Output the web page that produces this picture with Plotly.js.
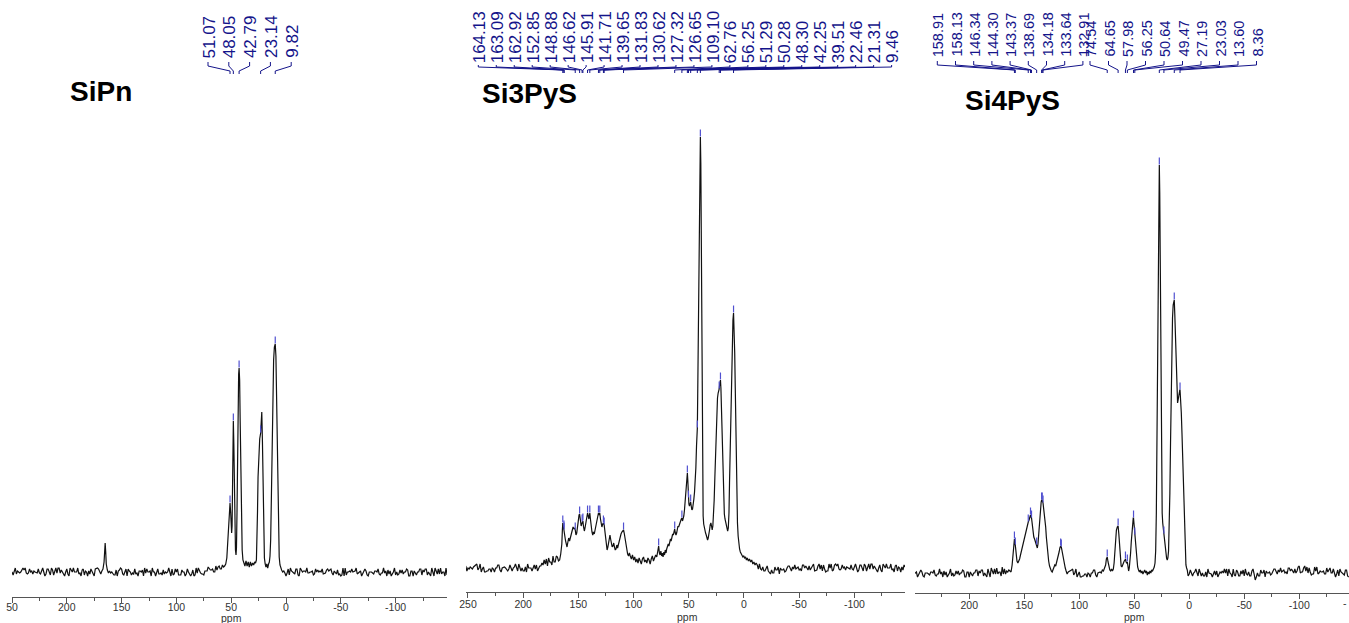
<!DOCTYPE html>
<html><head><meta charset="utf-8">
<script src="https://cdn.plot.ly/plotly-3.0.1.min.js"></script>
<style>html,body{margin:0;padding:0;background:#fff;}#chart{width:1349px;height:623px;}</style>
</head><body><div id="chart"></div>
<script>
// ---------- DATA (ppm, intensity above baseline) ----------
const sipnPoints = [
[251,-3],[250,0],[249,-3],[248,0],[247,4],[246,-2],[245,1],[244,0],[243,-1],[242,0],
[241,3],[240,4],[239,2],[238,4],[237,-1],[236,-2],[235,-1],[234,3],[233,0],[232,1],
[231,-2],[230,1],[229,0],[228,-1],[227,-1],[226,3],[225,-1],[224,-2],[223,2],[222,4],
[221,0],[220,-4],[219,-2],[218,3],[217,3],[216,0],[215,-3],[214,4],[213,2],[212,-3],
[211,1],[210,4],[209,-1],[208,4],[207,4],[206,-1],[205,2],[204,0],[203,-3],[202,-4],
[201,0],[200,3],[199,-2],[198,-4],[197,4],[196,2],[195,0],[194,4],[193,0],[192,0],
[191,0],[190,4],[189,-2],[188,-1],[187,-4],[186,2],[185,3],[184,-3],[183,1],[182,0],
[181,-4],[180,1],[179,-2],[178,3],[177,1],[176,-2],[175,-4],[174,3],[173,4],[172,4],
[171,3],[170,1],[169,-2],
[168,1],[167,3],[166,10],[165.5,22],[165,29],[164.5,20],[164,8],[163,2],[162,-1],[161,1],
[160,-1],[159,0],[158,-2],[157,-3],[156,-3],[155,2],[154,-4],[153,1],[152,2],[151,4],
[150,3],[149,-2],[148,-3],[147,0],[146,3],[145,-4],[144,3],[143,1],[142,0],[141,-3],
[140,-1],[139,-2],[138,3],[137,-2],[136,-1],[135,-4],[134,1],[133,1],[132,0],[131,2],
[130,-4],[129,4],[128,-1],[127,3],[126,0],[125,0],[124,1],[123,-4],[122,4],[121,0],
[120,0],[119,-4],[118,0],[117,3],[116,-2],[115,-2],[114,-1],[113,-3],[112,2],[111,-2],
[110,0],[109,-1],[108,0],[107,4],[106,0],[105,-4],[104,3],[103,-3],[102,-2],[101,3],
[100,0],[99,3],[98,-3],[97,-3],[96,-3],[95,2],[94,0],[93,0],[92,-4],[91,-2],
[90,3],[89,0],[88,-3],[87,-4],[86,-2],[85,2],[84,-4],[83,-3],[82,4],[81,-1],
[80,4],[79,1],[78,-1],[77,-2],[76,-2],[75,-3],[74,1],[73,1],[72,1],[71,5],
[70,3],[69,2],[68,2],[67,3],[66,0],[65,0],[64,6],[63,2],[62,5],[61,6],
[60,3],[59,3],[58,7],
[57,5],[56,6],[55,8],[54,14],[53.2,30],[52.5,52],[51.8,64],[51.07,69],[50.5,60],[50,47],[49.6,39],[49.2,46],[48.8,95],[48.4,140],[48.05,151],[47.6,128],[47.1,80],[46.6,42],[46.1,22],[45.6,17],[45.2,24],[44.7,60],[44.2,120],[43.6,175],[43.2,198],[42.79,204],[42.3,192],[41.8,150],[41.2,90],[40.6,45],[40,22],[39.3,12],[38.5,9],[37.5,6],[36.5,11],[35.5,6],[34.5,10],[33.5,5],[32.5,10],[31.5,6],[30.5,9],[29.5,7],[28.6,10],[27.8,9],[27,12],[26.5,30],[26,60],[25.5,95],[25,118],[24.5,128],[24,133],[23.14,139],[22.6,158],[22.1,160],[21.5,130],[20.9,80],[20.3,35],[19.7,14],[19,8],[18.3,5],[17.5,8],[16.7,4],[15.9,8],[15.2,10],[14.6,16],[14,32],[13.4,70],[12.7,125],[12,180],[11.3,212],[10.6,225],[9.82,228],[9.2,216],[8.6,180],[8,125],[7.4,70],[6.8,33],[6.2,15],[5.5,7],[4.8,4],[4,2],[3,0],[2,1],
[1,-1],[0,-4],[-1,-1],[-2,3],[-3,-3],[-4,4],[-5,1],
[-6,0],[-7,0],[-8,-2],[-9,3],[-10,3],[-11,-3],[-12,-4],[-13,4],[-14,2],[-15,0],
[-16,1],[-17,1],[-18,0],[-19,4],[-20,-1],[-21,-1],[-22,0],[-23,0],[-24,1],[-25,-3],
[-26,-2],[-27,3],[-28,0],[-29,2],[-30,0],[-31,1],[-32,0],[-33,3],[-34,-2],[-35,-1],
[-36,-1],[-37,2],[-38,3],[-39,1],[-40,2],[-41,3],[-42,-1],[-43,-3],[-44,1],[-45,0],
[-46,-2],[-47,2],[-48,-3],[-49,-2],[-50,-4],[-51,-3],[-52,4],[-53,-4],[-54,4],[-55,-3],
[-56,0],[-57,0],[-58,1],[-59,0],[-60,3],[-61,0],[-62,1],[-63,1],[-64,4],[-65,-2],
[-66,-1],[-67,0],[-68,1],[-69,-4],[-70,-1],[-71,0],[-72,3],[-73,1],[-74,-3],[-75,-4],
[-76,0],[-77,0],[-78,0],[-79,-1],[-80,-2],[-81,1],[-82,1],[-83,0],[-84,3],[-85,-2],
[-86,-3],[-87,-1],[-88,-1],[-89,4],[-90,-1],[-91,1],[-92,-4],[-93,2],[-94,-2],[-95,1],
[-96,-4],[-97,-2],[-98,0],[-99,4],[-100,-3],[-101,0],[-102,-3],[-103,-2],[-104,2],[-105,-1],
[-106,2],[-107,-2],[-108,0],[-109,0],[-110,3],[-111,2],[-112,-4],[-113,-4],[-114,1],[-115,1],
[-116,-4],[-117,1],[-118,-1],[-119,-3],[-120,0],[-121,0],[-122,3],[-123,3],[-124,-3],[-125,2],
[-126,0],[-127,3],[-128,3],[-129,-3],[-130,0],[-131,-2],[-132,-4],[-133,4],[-134,-2],[-135,-4],
[-136,4],[-137,1],[-138,-2],[-139,3],[-140,-2],[-141,4],[-142,-2],[-143,0],[-144,0],[-145,-4],
[-146,4],[-147,-3]
];
const si3pysPoints = [
[252,2],[251,-3],[250,0],[249,-1],[248,1],[247,0],[246,-1],[245,1],
[244,2],[243,3],[242,4],[241,-2],[240,0],[239,4],[238,-4],[237,-1],[236,1],[235,-4],
[234,-4],[233,-3],[232,-3],[231,-1],[230,-1],[229,-4],[228,0],[227,-1],[226,-4],[225,0],
[224,0],[223,3],[222,3],[221,-2],[220,-4],[219,0],[218,1],[217,1],[216,0],[215,-2],
[214,-3],[213,-1],[212,3],[211,0],[210,-3],[209,0],[208,1],[207,4],[206,0],[205,-3],
[204,4],[203,0],[202,-3],[201,0],[200,-3],[199,-3],[198,1],[197,-4],[196,4],[195,0],
[194,0],[193,0],[192,-3],[191,1],[190,3],[189,-1],[188,3],[187,-3],[186,0],[185,2],
[184,2],
[183,5],[182,3],[181,8],[180,4],[179,9],[178,2],[177,10],[176,6],[175,6],[174,3],[173,12],[172,6],[171,6],[170,12],[169,11],[168,7],[167,8],[166,14],
[165,24],[164.5,38],[164.13,45],[163.5,41],[163.09,39],[162.92,38],[162.3,32],[161.6,27],[161,24],[160.3,21],[159.5,26],[158.8,30],[158,27],[157.2,31],[156.4,35],[155.6,39],[154.8,41],[154,39],[153.4,40],[152.85,38],[152.2,33],[151.5,35],[150.8,42],[150.1,48],[149.4,53],[148.88,54],[148.2,46],[147.5,42],[147,44],[146.62,46],[145.91,47],[145.3,41],[144.6,37],[144,40],[143.3,45],[142.6,51],[142.1,54],[141.71,55],[141.1,52],[140.5,49],[140,53],[139.65,55],[139.1,49],[138.4,41],[137.7,36],[137,33],[136.3,36],[135.6,34],[134.9,38],[134.2,43],[133.5,48],[132.8,52],[132.3,54],[131.83,55],[131.2,53],[130.62,55],[130,49],[129.4,44],[128.7,41],[128,44],[127.32,45],[126.65,43],[126,36],[125.3,27],[124.6,20],[124,18],[123.3,21],[122.6,27],[122,31],[121.4,33],[120.8,29],[120.1,24],[119.4,21],[118.7,22],[118,25],[117.3,21],[116.6,18],[115.9,19],[115.2,23],[114.5,20],[113.8,24],[113,28],[112.2,31],[111.4,34],[110.6,36],[109.8,37],[109.1,38],[108.5,35],[107.8,30],[107,24],[106.2,18],[105.4,14],[104.6,12],[103.8,15],
[103,12],[102,9],[101,13],[100,8],[99,11],[98,6],[97,9],[96,5],[95,10],[94,7],[93,4],[92,9],[91,11],[90,6],[89,8],[88,5],[87,10],[86,8],[85,4],[84,9],[83,12],[82,7],[81,10],[80,13],[79,11],[78,16],[77.3,22],[76.6,15],[76,13],[75.3,17],[74.6,12],[74,15],[73.3,11],[72.6,16],[72,13],[71.3,18],[70.6,15],[70,19],
[69.3,21],[68.6,24],[68,22],[67.3,27],[66.6,29],[66,27],[65.3,31],[64.6,34],[64,33],[63.4,36],[62.76,39],[62.2,35],[61.6,33],[61,35],[60.4,39],[59.8,42],[59.2,41],[58.6,44],[58,45],[57.4,47],[56.8,49],[56.25,50],[55.7,47],[55.1,49],[54.5,52],[53.9,58],[53.3,68],[52.7,82],[52.1,92],[51.6,95],[51.29,95],[50.9,88],[50.6,78],[50.28,70],[49.9,64],[49.4,62],[48.8,64],[48.3,66],[47.8,62],[47.2,58],[46.6,59],[46,63],[45.4,69],[44.8,76],[44.2,85],[43.6,100],[43,122],[42.6,135],[42.25,140],[41.9,175],[41.5,230],[41.1,290],[40.7,350],[40.3,400],[39.9,425],[39.51,431],[39.1,405],[38.8,340],[38.5,260],[38.2,180],[37.9,115],[37.5,72],[37,52],[36.5,44],[36,40],[35.4,37],[34.8,35],[34.2,33],[33.6,30],[33,28],[32.4,30],[31.8,33],[31.2,38],[30.6,43],[30,45],[29.4,42],[28.8,38],[28.2,42],[27.6,52],[27,68],[26.4,90],[25.8,115],[25.2,138],[24.6,158],[24,170],[23.4,175],[22.9,177],[22.46,179],[22,184],[21.6,187],[21.31,188],[20.9,180],[20.4,160],[19.9,135],[19.4,105],[18.9,80],[18.4,64],[17.8,54],[17.2,49],[16.6,46],[16,43],[15.4,40],[14.8,37],[14.2,40],[13.6,55],[13.1,85],[12.6,115],[12.1,145],[11.6,175],[11,205],[10.5,230],[10,248],[9.46,255],[8.9,242],[8.4,215],[7.9,180],[7.4,140],[6.9,100],[6.4,68],[5.9,45],[5.3,32],[4.7,24],[4,19],[3.3,16],[2.5,14],[1.7,13],[1,11],[0.2,12],[-0.6,10],[-1.4,11],[-2.2,8],[-3,10],[-4,7],[-5,9],[-6,6],[-7,8],[-8,4],[-9,6],[-10,3],[-11,5],
[-12,3],[-13,-1],[-14,4],[-15,-1],[-16,-2],[-17,1],[-18,-3],[-19,-3],[-20,0],[-21,2],
[-22,-3],[-23,-5],[-24,-6],[-25,-2],[-26,-5],[-27,-5],[-28,1],[-29,-2],[-30,-2],[-31,1],
[-32,-6],[-33,0],[-34,-2],[-35,-2],[-36,-1],[-37,-4],[-38,-3],[-39,0],[-40,2],[-41,2],
[-42,0],[-43,-3],[-44,1],[-45,-1],[-46,3],[-47,-1],[-48,0],[-49,1],[-50,-2],[-51,-1],
[-52,-3],[-53,3],[-54,3],[-55,0],[-56,2],[-57,0],[-58,-2],[-59,2],[-60,-2],[-61,0],
[-62,3],[-63,4],[-64,-3],[-65,-2],[-66,-2],[-67,2],[-68,4],[-69,-1],[-70,3],[-71,-3],
[-72,3],[-73,-1],[-74,-4],[-75,-3],[-76,-3],[-77,4],[-78,0],[-79,4],[-80,-3],[-81,-2],
[-82,3],[-83,4],[-84,2],[-85,4],[-86,-1],[-87,-2],[-88,-1],[-89,3],[-90,0],[-91,1],
[-92,-2],[-93,1],[-94,0],[-95,-1],[-96,-1],[-97,3],[-98,-1],[-99,-2],[-100,2],[-101,4],
[-102,0],[-103,-4],[-104,-2],[-105,3],[-106,3],[-107,0],[-108,-3],[-109,4],[-110,2],[-111,-3],
[-112,1],[-113,4],[-114,-1],[-115,4],[-116,4],[-117,-1],[-118,2],[-119,0],[-120,-3],[-121,-4],
[-122,0],[-123,3],[-124,-2],[-125,-4],[-126,4],[-127,2],[-128,0],[-129,4],[-130,0],[-131,0],
[-132,0],[-133,4],[-134,-2],[-135,-1],[-136,-4],[-137,2],[-138,3],[-139,-3],[-140,1],[-141,0],
[-142,-4],[-143,1],[-144,-2],[-145,3],[-146,1]
];
const si4pysPoints = [
[250,-1],[249,0],[248,1],[247,-4],[246,-1],[245,0],[244,3],[243,1],[242,-3],[241,-4],
[240,0],[239,0],[238,0],[237,-1],[236,-2],[235,1],[234,1],[233,0],[232,3],[231,-2],
[230,-3],[229,-1],[228,-1],[227,4],[226,-1],[225,1],[224,-4],[223,2],[222,-2],[221,1],
[220,-4],[219,-2],[218,0],[217,4],[216,-3],[215,0],[214,-3],[213,-2],[212,2],[211,-1],
[210,2],[209,-2],[208,0],[207,0],[206,3],[205,2],[204,-4],[203,-4],[202,1],[201,1],
[200,-4],[199,1],[198,-1],[197,-3],[196,0],[195,0],[194,3],[193,3],[192,-3],[191,2],
[190,0],[189,3],[188,3],[187,-3],[186,0],[185,-2],[184,-4],[183,4],[182,-2],[181,-4],
[180,5],[179,2],[178,-1],[177,4],[176,-1],[175,5],[174,-1],[173,1],[172,1],[171,-3],
[170,6],[169,-1],[168,4],[167,-1],[166,2],[165,1],[164,3],[163,2],[162,1],
[161,8],
[160.3,18],[159.6,30],[158.91,34],[158.13,28],[157.4,18],[156.6,12],[155.8,10],[155,12],[154.2,14],[153.4,18],[152.6,22],[151.8,25],[151,28],[150.2,33],[149.4,37],[148.6,41],[147.8,44],[147,48],[146.34,51],[145.6,53],[144.9,56],[144.3,58],[143.37,55],[142.7,47],[142,40],[141.3,36],[140.6,34],[139.9,32],[139.3,30],[138.69,28],[138.1,25],[137.5,29],[136.9,40],[136.3,51],[135.7,60],[135.1,67],[134.6,71],[134.18,73],[133.64,73],[132.91,70],[132.3,65],[131.7,61],[131.1,55],[130.5,46],[129.9,36],[129.2,26],[128.5,18],[127.8,12],[127,7],[126.2,4],[125.4,2],[124.6,1],[123.8,3],[123,6],[122.2,8],[121.4,7],[120.6,10],[119.8,13],[119,16],[118.3,21],[117.6,25],[116.9,27],[116.3,26],[115.7,22],[115,17],[114.3,12],[113.5,8],[112.7,5],[111.9,2],[111,-1],[110,1],
[108,2],[107,3],[106,4],[105,-2],[104,0],[103,4],[102,-4],[101,-1],[100,1],[99,-4],
[98,-4],[97,-3],[96,-3],[95,-1],[94,-1],[93,-4],[92,0],[91,-1],[90,-4],[89,0],
[88,0],[87,3],[86,3],[85,-2],[84,-4],[83,0],[82,1],[81,1],[80,0],
[79,3],[78,2],[77,5],[76,8],[75.3,14],[74.54,16],[73.8,11],[73,6],[72.2,3],[71.4,2],[70.6,4],[69.8,2],[69,4],[68.3,10],[67.6,22],[66.9,35],[66.2,43],[65.4,46],[64.65,47],[64,39],[63.3,26],[62.6,14],[61.9,7],[61.2,6],[60.5,9],[59.8,11],[59.1,12],[58.5,13],[57.98,14],[57.4,11],[56.8,10],[56.25,11],[55.7,6],[55.1,2],[54.5,5],[53.9,11],[53.3,20],[52.7,31],[52.1,43],[51.5,51],[50.9,55],[50.64,55],[50.1,48],[49.47,38],[48.9,28],[48.3,17],[47.6,9],[46.9,6],[46.1,3],[45.3,1],[44.5,3],[43.7,0],[42.9,2],[42.1,-1],[41.3,1],[40.5,3],[39.7,0],[38.9,2],[38.1,-2],[37.3,1],[36.5,-1],[35.7,2],[34.9,0],[34.1,3],[33.3,2],[32.5,4],[31.8,6],[31.1,10],[30.5,22],
[29.9,60],[29.4,120],[28.9,200],[28.4,290],[27.9,365],[27.5,400],[27.19,408],[26.8,380],[26.4,310],[26,220],[25.6,140],[25.1,85],[24.6,60],[24.1,50],[23.6,44],[23.03,39],[22.4,33],[21.8,27],[21.2,20],[20.6,15],[20,13],[19.4,15],[18.8,22],[18.2,42],[17.6,80],[17,130],[16.4,180],[15.8,225],[15.2,255],[14.6,268],[14.1,272],[13.6,273],[13.1,258],[12.6,235],[12.1,208],[11.6,185],[11.1,173],[10.6,170],[10.1,173],[9.6,178],[9.1,182],[8.6,183],[8.36,183],[7.8,175],[7.2,160],[6.6,140],[6,115],[5.4,85],[4.8,55],[4.2,30],[3.6,14],[3,8],[2.4,5],[1.8,3],
[1,-3],[0,-1],[-1,3],[-2,0],[-3,-3],[-4,0],[-5,1],[-6,4],[-7,0],[-8,-3],
[-9,4],[-10,0],[-11,-3],[-12,0],[-13,-3],[-14,-3],[-15,1],[-16,-4],[-17,4],[-18,0],
[-19,-1],[-20,-1],[-21,-4],[-22,0],[-23,2],[-24,-2],[-25,2],[-26,-4],[-27,-1],[-28,1],
[-29,0],[-30,2],[-31,0],[-32,4],[-33,0],[-34,4],[-35,-3],[-36,4],[-37,0],[-38,-1],
[-39,-4],[-40,4],[-41,-2],[-42,-3],[-43,3],[-44,1],[-45,-3],[-46,-3],[-47,2],[-48,-1],
[-49,3],[-50,-3],[-51,4],[-52,-1],[-53,-2],[-54,1],[-55,-3],[-56,-3],[-57,2],[-58,4],
[-59,-1],[-60,-7],[-61,-4],[-62,0],[-63,-3],[-64,-3],[-65,3],[-66,0],[-67,0],[-68,3],
[-69,-4],[-70,2],[-71,0],[-72,0],[-73,1],[-74,-2],[-75,-1],[-76,2],[-77,4],[-78,4],
[-79,2],[-80,-1],[-81,3],[-82,1],[-83,5],[-84,1],[-85,2],[-86,3],[-87,0],[-88,1],
[-89,-1],[-90,5],[-91,5],[-92,2],[-93,4],[-94,2],[-95,0],[-96,4],[-97,0],[-98,2],
[-99,6],[-100,7],[-101,0],[-102,1],[-103,1],[-104,5],[-105,7],[-106,2],[-107,6],[-108,0],
[-109,5],[-110,1],[-111,-2],[-112,-1],[-113,-1],[-114,6],[-115,2],[-116,6],[-117,-1],[-118,0],
[-119,2],[-120,1],[-121,1],[-122,2],[-123,-1],[-124,-1],[-125,5],[-126,1],[-127,4],[-128,5],
[-129,0],[-130,0],[-131,4],[-132,-1],[-133,-4],[-134,-1],[-135,3],[-136,-3],[-137,4],[-138,1],
[-139,0],[-140,0],[-141,-2],[-142,3],[-143,3],[-144,-3],[-145,-4]
];

// labelled peaks (ppm)
const sipnPeaks = [51.07,48.05,42.79,23.14,9.82];
const si3pysPeaks = [164.13,163.09,162.92,152.85,148.88,146.62,145.91,141.71,139.65,131.83,130.62,127.32,126.65,109.10,62.76,56.25,51.29,50.28,48.30,42.25,39.51,22.46,21.31,9.46];
const si4pysPeaks = [158.91,158.13,146.34,144.30,143.37,138.69,134.18,133.64,132.91,74.54,64.65,57.98,56.25,50.64,49.47,27.19,23.03,13.60,8.36];

// peak-pick markers drawn on the spectra (ppm, height)
const sipnMarkPpm = [51.07,48.05,42.79,23.14,9.82];
const sipnMarkInt = [73,155,208,143,232];
const si3pysMarkPpm = [164.13,163.09,162.92,152.85,148.88,146.62,145.91,141.71,139.65,131.83,130.62,127.32,126.65,109.10,77.3,62.76,56.25,51.29,50.28,48.30,42.25,39.51,22.46,21.31,9.46];
const si3pysMarkInt = [49,44,42,42,58,50,51,59,59,59,59,49,47,42,26,43,54,99,74,70,144,435,183,192,259];
const si4pysMarkPpm = [158.91,158.13,146.34,144.30,143.37,138.69,134.18,133.64,132.91,116.9,116.3,74.54,64.65,57.98,56.25,50.64,49.47,27.19,23.03,13.60,8.36];
const si4pysMarkInt = [38,32,55,62,59,32,77,77,74,31,30,20,51,18,15,59,42,412,43,277,187];

const sampleNames = ['SiPn','Si3PyS','Si4PyS'];
const tickValues = [250,200,150,100,50,0,-50,-100];

// ---------- LAYOUT ----------
const W = 1349, H = 623, TOP = 120;
const NAVY = '#14148a';
const panels = [
  {ax:'x', ya:'y', left:12, right:447, x0:250, ppx:1.096, bottom:597, base:572,
   pts:sipnPoints, peaks:sipnPeaks, mp:sipnMarkPpm, mi:sipnMarkInt,
   groups:[{n:5,start:208,step:20.8}], lblBottom:60, lblSize:17, lead:[62,66,71,74],
   title:{x:101,y:91}, ppmY:617.5, standoff:-5, alias:{'250':'50'}},
  {ax:'x2', ya:'y2', left:466, right:905, x0:251.8, ppx:1.104, bottom:592, base:568,
   pts:si3pysPoints, peaks:si3pysPeaks, mp:si3pysMarkPpm, mi:si3pysMarkInt,
   groups:[{n:24,start:478.3,step:17.97}], lblBottom:65, lblSize:17, lead:[65,67,70,73],
   title:{x:529,y:94}, ppmY:617, standoff:-3, alias:{}},
  {ax:'x3', ya:'y3', left:915, right:1349, x0:249.3, ppx:1.1, bottom:593, base:573,
   pts:si4pysPoints, peaks:si4pysPeaks, mp:si4pysMarkPpm, mi:si4pysMarkInt,
   groups:[{n:9,start:937.3,step:18.2},{n:10,start:1090,step:18.5}], lblBottom:59, lblSize:14.5, lead:[61,65,70,73],
   title:{x:1012,y:100}, ppmY:617, standoff:-3, alias:{}}
];

const traces = [], shapes = [], annotations = [];
const layout = {
  width: W, height: H, margin:{l:0,r:0,t:0,b:0}, showlegend:false,
  paper_bgcolor:'#fff', plot_bgcolor:'rgba(0,0,0,0)',
  font:{family:'Liberation Sans, Arial, sans-serif', color:'#333'}
};
const py = p => 1 - p / H;

panels.forEach((p, k) => {
  const xEnd = p.x0 - (p.right - p.left) / p.ppx;
  const sfx = k === 0 ? '' : String(k + 1);
  const alias = Object.assign({'−50':'-50','−100':'-100'}, p.alias);
  layout['xaxis' + sfx] = {
    domain:[p.left / W, p.right / W], range:[p.x0, xEnd], anchor:p.ya,
    showline:true, linecolor:'#555', linewidth:1, ticks:'outside', ticklen:5, tickcolor:'#555',
    tickmode:'array', tickvals:tickValues, labelalias:alias, ticklabelstandoff:p.standoff,
    minor:{tickmode:'linear', tick0:0, dtick:25, ticks:'outside', ticklen:3, tickcolor:'#555'},
    showgrid:false, zeroline:false, tickfont:{size:10.5, color:'#333'}, fixedrange:true
  };
  layout['yaxis' + sfx] = {
    domain:[py(p.bottom), py(TOP)], range:[p.base - p.bottom, p.base - TOP],
    anchor:p.ax, visible:false, fixedrange:true
  };
  traces.push({
    type:'scatter', mode:'lines', xaxis:p.ax, yaxis:p.ya,
    x:p.pts.map(d => d[0]), y:p.pts.map(d => d[1]),
    line:{color:'#111', width:1.2}, hoverinfo:'skip'
  });
  traces.push({
    type:'scatter', mode:'markers', xaxis:p.ax, yaxis:p.ya,
    x:p.mp, y:p.mi,
    marker:{symbol:'line-ns', size:5, line:{color:'#5050d0', width:1.2}}, hoverinfo:'skip'
  });
  // peak labels + leader lines
  const labelPx = [];
  p.groups.forEach(g => { for (let i = 0; i < g.n; i++) labelPx.push(g.start + i * g.step); });
  p.peaks.forEach((v, i) => {
    const lx = labelPx[i];
    annotations.push({
      xref:'paper', yref:'paper', x:(lx + 1) / W, y:py(p.lblBottom),
      xanchor:'center', yanchor:'bottom', textangle:-90, showarrow:false,
      text:v.toFixed(2), font:{size:p.lblSize, color:NAVY}
    });
    const lppm = p.x0 - (lx - p.left) / p.ppx;
    const L = p.lead;
    shapes.push({
      type:'path', xref:p.ax, yref:'paper',
      path:`M ${lppm},${py(L[0])} L ${lppm},${py(L[1])} L ${v},${py(L[2])} L ${v},${py(L[3])}`,
      line:{color:NAVY, width:1}
    });
  });
  annotations.push({
    xref:'paper', yref:'paper', x:p.title.x / W, y:py(p.title.y),
    xanchor:'center', yanchor:'middle', showarrow:false,
    text:'<b>' + sampleNames[k] + '</b>', font:{size:28, color:'#000'}
  });
  annotations.push({
    xref:'paper', yref:'paper', x:((p.left + p.right) / 2 + 2) / W, y:py(p.ppmY),
    xanchor:'center', yanchor:'middle', showarrow:false,
    text:'ppm', font:{size:10.5, color:'#333'}
  });
});
// cut-off tick label at the far right edge of the third spectrum
annotations.push({xref:'paper', yref:'paper', x:1, y:py(603), xanchor:'right', yanchor:'middle',
  showarrow:false, text:'-', font:{size:10.5, color:'#333'}});

layout.shapes = shapes;
layout.annotations = annotations;
Plotly.newPlot('chart', traces, layout, {displayModeBar:false, staticPlot:true});
</script>
</body></html>
